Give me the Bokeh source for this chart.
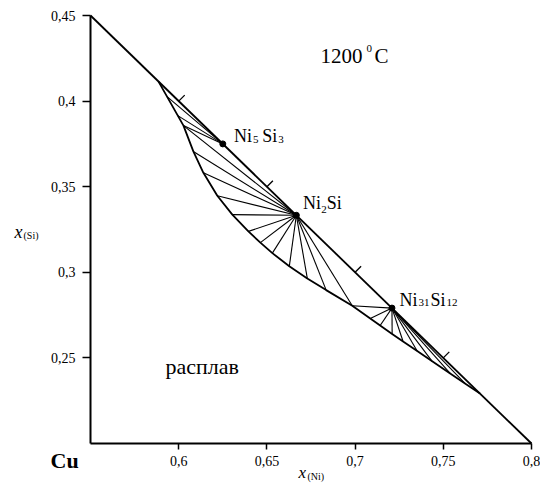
from bokeh.plotting import figure
from bokeh.models import Range1d, FixedTicker, Label, CustomJSTickFormatter
from bokeh.embed import file_html
from bokeh.resources import INLINE

# ---------------- data ----------------
X_START, X_END = 0.55, 0.80
Y_START, Y_END = 0.20, 0.45
x_ticks = [0.60, 0.65, 0.70, 0.75, 0.80]
y_ticks = [0.25, 0.30, 0.35, 0.40, 0.45]

# Cu-free edge (Ni-Si binary)
edge_x = [0.55, 0.80]
edge_y = [0.45, 0.20]
edge_tick_x = [0.60, 0.65, 0.70, 0.75]
edge_tick_y = [0.40, 0.35, 0.30, 0.25]

# compounds
compound_names = ["Ni5Si3", "Ni2Si", "Ni31Si12"]
compound_x = [0.625, 0.6667, 0.7209]
compound_y = [0.375, 0.3333, 0.2791]

# liquid (расплав) boundary
liq_x = [0.5885, 0.6027, 0.6083, 0.6140, 0.6219, 0.6304, 0.6395, 0.6463, 0.6531,
         0.6627, 0.6729, 0.6836, 0.6984, 0.7086, 0.7142, 0.7210, 0.7272, 0.7352,
         0.7437, 0.7539, 0.7623, 0.7708]
liq_y = [0.4115, 0.3857, 0.3706, 0.3581, 0.3447, 0.3337, 0.3239, 0.3173, 0.3112,
         0.3035, 0.2964, 0.2896, 0.2805, 0.2730, 0.2689, 0.2640, 0.2596, 0.2540,
         0.2480, 0.2409, 0.2351, 0.2292]

# tie lines: liquid ends for each compound
tie_ni5si3_x = [0.5934, 0.5995, 0.6027]
tie_ni5si3_y = [0.4026, 0.3915, 0.3857]
tie_ni2si_x = [0.6027, 0.6083, 0.6140, 0.6219, 0.6304, 0.6395, 0.6463, 0.6531,
               0.6627, 0.6729, 0.6836, 0.6984]
tie_ni2si_y = [0.3857, 0.3706, 0.3581, 0.3447, 0.3337, 0.3239, 0.3173, 0.3112,
               0.3035, 0.2964, 0.2896, 0.2805]
tie_ni31si12_x = [0.6984, 0.7086, 0.7142, 0.7210, 0.7272, 0.7352, 0.7437, 0.7539, 0.7623]
tie_ni31si12_y = [0.2805, 0.2730, 0.2689, 0.2640, 0.2596, 0.2540, 0.2480, 0.2409, 0.2351]

# ---------------- layout ----------------
W, H = 540, 485
X0PX, X1PX = 90, 531      # page pixels of x = 0.55 and x = 0.80
Y0PX, Y1PX = 15, 443      # page pixels of y = 0.45 and y = 0.20
XS = (X1PX - X0PX) / (X_END - X_START)
YS = (Y1PX - Y0PX) / (Y_END - Y_START)
FONT = "Liberation Serif"
TEXT_DY = -6              # global vertical correction of text baselines (px, down positive)


def px_x(px):
    return X_START + (px - X0PX) / XS


def px_y(py):
    return Y_END - (py - Y0PX) / YS


p = figure(width=W, height=H, min_border=0,
           x_range=Range1d(px_x(0), px_x(W)), y_range=Range1d(px_y(H), px_y(0)),
           output_backend="svg", toolbar_location=None)
p.min_border_left = p.min_border_right = p.min_border_top = p.min_border_bottom = 0
p.title.visible = False
p.outline_line_color = None
p.xgrid.grid_line_color = None
p.ygrid.grid_line_color = None
p.background_fill_color = "white"
p.border_fill_color = "white"

fmt = CustomJSTickFormatter(code="return tick.toFixed(2).replace(/0+$/, '').replace('.', ',');")
p.xaxis.fixed_location = Y_START
p.xaxis.bounds = (X_START, X_END)
p.yaxis.fixed_location = X_START
p.yaxis.bounds = (Y_START, Y_END)
for ax, ticks, tout in ((p.xaxis[0], x_ticks, 6), (p.yaxis[0], y_ticks, 8)):
    ax.ticker = FixedTicker(ticks=ticks)
    ax.formatter = fmt
    ax.axis_line_width = 2
    ax.axis_line_color = "black"
    ax.major_tick_line_color = "black"
    ax.major_tick_line_width = 1.5
    ax.major_tick_out = tout
    ax.major_tick_in = 0
    ax.minor_tick_out = 0
    ax.minor_tick_in = 0
    ax.major_label_text_font = FONT
    ax.major_label_text_font_size = "14px"
    ax.major_label_text_color = "black"
p.xaxis.major_label_standoff = 6
p.yaxis.major_label_standoff = 7

# Cu-free edge and its small ticks
p.line(edge_x, edge_y, line_color="black", line_width=1.8)
p.segment(x0=edge_tick_x, y0=edge_tick_y,
          x1=[t + 6 / XS for t in edge_tick_x], y1=[t + 6 / YS for t in edge_tick_y],
          line_color="black", line_width=1.3)

# liquid boundary
p.line(liq_x, liq_y, line_color="black", line_width=1.8)

# tie lines
for tx, ty, i in ((tie_ni5si3_x, tie_ni5si3_y, 0),
                  (tie_ni2si_x, tie_ni2si_y, 1),
                  (tie_ni31si12_x, tie_ni31si12_y, 2)):
    p.segment(x0=tx, y0=ty, x1=[compound_x[i]] * len(tx), y1=[compound_y[i]] * len(tx),
              line_color="black", line_width=1.1)

# compound points
p.scatter(compound_x, compound_y, size=6, color="black")


def add_text(x, y, text, size, style="normal"):
    p.add_layout(Label(x=x, y=y - TEXT_DY / YS, text=text, text_font=FONT,
                       text_font_size=f"{size}px", text_font_style=style,
                       text_color="black", text_baseline="alphabetic", text_align="left"))


# compound labels: (text, dx px, dy px downwards, size)
label_parts = [
    [("Ni", 11.3, -1.6, 18), ("5", 30.3, 1.7, 11), ("Si", 39.5, -1.6, 18), ("3", 55.5, 1.7, 11)],
    [("Ni", 6.6, -6.7, 18), ("2", 25.0, 0.0, 11), ("Si", 30.3, -6.7, 18)],
    [("Ni", 7.5, -2.5, 18), ("31", 26.5, 0.8, 11), ("Si", 38.5, -2.5, 18), ("12", 54.5, 0.8, 11)],
]
for i, parts in enumerate(label_parts):
    for txt, dx, dy, sz in parts:
        add_text(compound_x[i] + dx / XS, compound_y[i] - dy / YS, txt, sz)

# other texts (page pixel positions, baseline)
add_text(px_x(320), px_y(61.7), "1200", 21)
add_text(px_x(366), px_y(54), "0", 11)
add_text(px_x(374), px_y(61.7), "C", 21)
add_text(px_x(165), px_y(372), "расплав", 22)
add_text(px_x(50), px_y(466), "Cu", 22, "bold")
add_text(px_x(14), px_y(237), "x", 18, "italic")
add_text(px_x(23), px_y(241), "(Si)", 10)
add_text(px_x(298), px_y(478), "x", 17, "italic")
add_text(px_x(307), px_y(482), "(Ni)", 10)

open("out.html", "w").write(file_html(p, INLINE))
